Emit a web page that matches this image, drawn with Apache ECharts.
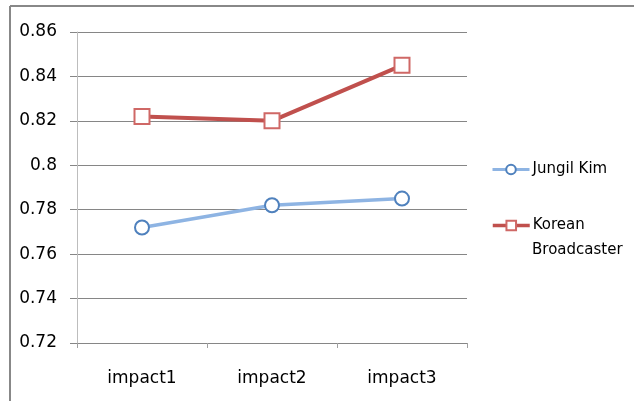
<!DOCTYPE html>
<html>
<head>
<meta charset="utf-8">
<script src="https://cdn.jsdelivr.net/npm/echarts@6/dist/echarts.min.js"></script>
<style>
html,body{margin:0;padding:0;background:#fff;}
#chart{width:634px;height:401px;}
</style>
</head>
<body>
<div id="chart"></div>
<script>
var categories = ['impact1', 'impact2', 'impact3'];
var jungilKim = [0.772, 0.782, 0.785];
var koreanBroadcaster = [0.822, 0.820, 0.845];
var seriesNames = ['Jungil Kim', 'Korean Broadcaster'];

var chart = echarts.init(document.getElementById('chart'));
var font = '"DejaVu Sans", "Noto Sans", sans-serif';
chart.setOption({
  animation: false,
  backgroundColor: '#fff',
  grid: {left: 77, right: 167, top: 32, bottom: 58, containLabel: false},
  xAxis: {
    type: 'category',
    data: categories,
    boundaryGap: true,
    axisLine: {lineStyle: {color: '#868686', width: 1}},
    axisTick: {show: true, length: 5, lineStyle: {color: '#A0A0A0'}},
    axisLabel: {color: '#000', fontSize: 17, fontFamily: font, margin: 27}
  },
  yAxis: {
    type: 'value',
    min: 0.72, max: 0.86, interval: 0.02,
    axisLine: {show: true, lineStyle: {color: '#BDBDBD', width: 1}},
    axisTick: {show: true, length: 7, lineStyle: {color: '#868686'}},
    axisLabel: {color: '#000', fontSize: 17, fontFamily: font, margin: 20,
      formatter: function (v) { return String(parseFloat(v.toFixed(2))); }},
    splitLine: {show: true, lineStyle: {color: '#868686', width: 1}}
  },
  legend: [{
    data: [seriesNames[0]],
    left: 486, top: 157,
    itemWidth: 37, itemHeight: 12, itemGap: 0,
    lineStyle: {width: 3},
    textStyle: {color: '#000', fontSize: 15, fontFamily: font, padding: [0, 0, 0, -2]}
  }, {
    data: [seriesNames[1]],
    left: 486, top: 213,
    itemWidth: 37, itemHeight: 12,
    lineStyle: {width: 3.5},
    formatter: function () { return 'Korean'; },
    textStyle: {color: '#000', fontSize: 15, fontFamily: font, padding: [0, 0, 0, -2]}
  }],
  graphic: [
    {type: 'line', shape: {x1: 10, y1: 6, x2: 634, y2: 6}, style: {stroke: '#888', lineWidth: 2}, silent: true},
    {type: 'line', shape: {x1: 10, y1: 6, x2: 10, y2: 401}, style: {stroke: '#888', lineWidth: 2}, silent: true},
    {type: 'text', left: 532, top: 243, style: {text: 'Broadcaster', fill: '#000', font: '15px "DejaVu Sans", "Noto Sans", sans-serif'}}
  ],
  series: [{
    name: seriesNames[0],
    type: 'line',
    data: jungilKim,
    symbol: 'circle',
    symbolSize: 14,
    lineStyle: {color: '#8EB4E3', width: 3.5},
    itemStyle: {color: '#fff', borderColor: '#4F81BD', borderWidth: 2}
  }, {
    name: seriesNames[1],
    type: 'line',
    data: koreanBroadcaster,
    symbol: 'rect',
    symbolSize: 15,
    lineStyle: {color: '#C0504D', width: 4},
    itemStyle: {color: '#fff', borderColor: '#CF6866', borderWidth: 2}
  }]
});
</script>
</body>
</html>
